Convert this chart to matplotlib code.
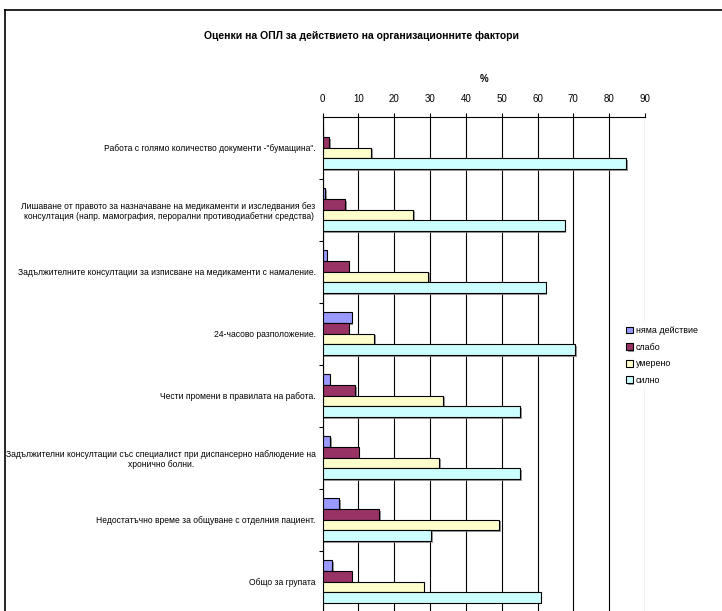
import matplotlib
matplotlib.use('Agg')
import matplotlib.pyplot as plt
import matplotlib.patheffects as pe
from matplotlib.lines import Line2D
import numpy as np

plt.rcParams['font.family'] = ['Liberation Sans', 'DejaVu Sans']

categories = [
    'Работа с голямо количество документи -"бумащина".',
    'Лишаване от правото за назначаване на медикаменти и изследвания без\n'
    'консултация (напр. мамография, перорални противодиабетни средства)',
    'Задължителните консултации за изписване на медикаменти с намаление.',
    '24-часово разположение.',
    'Чести промени в правилата на работа.',
    'Задължителни консултации със специалист при диспансерно наблюдение на\n'
    'хронично болни.',
    'Недостатъчно време за общуване с отделния пациент.',
    'Общо за групата',
]
series_names = ['няма действие', 'слабо', 'умерено', 'силно']
nyama = [0.0, 0.7, 1.1, 8.1, 2.0, 2.2, 4.7, 2.7]
slabo = [1.8, 6.3, 7.3, 7.3, 9.0, 10.1, 15.7, 8.1]
umereno = [13.5, 25.3, 29.5, 14.4, 33.7, 32.6, 49.2, 28.2]
silno = [84.7, 67.6, 62.3, 70.5, 55.2, 55.2, 30.4, 60.9]
x_ticks = list(range(0, 100, 10))

colors = ['#9999FF', '#993366', '#FFFFCC', '#CCFFFF']

fig = plt.figure(figsize=(7.22, 6.11), dpi=100)
ax = fig.add_axes([322.6 / 722, -1.5 / 611, (645 - 322.6) / 722, (612.5 - 116.7) / 611])

y = np.arange(len(categories))
h = 0.172
shadow = [pe.SimplePatchShadow(offset=(1.2, -1.2), shadow_rgbFace='#808080', alpha=0.8), pe.Normal()]
for k, (name, vals) in enumerate(zip(series_names, [nyama, slabo, umereno, silno])):
    bars = ax.barh(y + (k - 1.5) * h, vals, height=h, color=colors[k],
                   edgecolor='black', linewidth=0.8, label=name, zorder=3)
    for b in bars:
        if b.get_width() > 0:
            b.set_path_effects(shadow)

ax.set_xlim(0, 90)
ax.set_ylim(len(categories) - 0.5, -0.5)
ax.xaxis.tick_top()
ax.xaxis.set_label_position('top')
ax.set_xticks(x_ticks)
ax.set_xticklabels([str(v) for v in x_ticks], fontsize=7)
ax.tick_params(axis='x', length=3, width=0.8, pad=6, color='black')
ax.set_xlabel('%', fontsize=7, fontweight='bold', labelpad=9)
ax.xaxis.grid(True, color='black', linewidth=0.8, zorder=0)
ax.set_axisbelow(True)

ax.set_yticks(y)
ax.set_yticklabels(categories, fontsize=6.15, multialignment='center')
ax.tick_params(axis='y', which='major', length=0, pad=5)
ax.set_yticks(np.arange(len(categories)) + 0.5, minor=True)
ax.tick_params(axis='y', which='minor', length=3, width=0.8)

ax.spines['right'].set_visible(False)
ax.spines['bottom'].set_visible(False)
ax.spines['top'].set_linewidth(0.8)
ax.spines['left'].set_linewidth(0.8)

leg = ax.legend(loc='upper left', bbox_to_anchor=(619 / 722, 1 - 319 / 611),
                bbox_transform=fig.transFigure, frameon=True, fancybox=False,
                edgecolor='white', facecolor='white', framealpha=1,
                fontsize=6.4, handlelength=0.75, handleheight=0.8,
                handletextpad=0.35, labelspacing=0.85, borderpad=0.3)
leg.set_zorder(5)
for p in leg.get_patches():
    p.set_linewidth(0.8)

fig.text(362 / 722, 1 - 36 / 611, 'Оценки на ОПЛ за действието на организационните фактори',
         ha='center', va='center', fontsize=7.5, fontweight='bold')

# chart frame
fig.add_artist(Line2D([4.5 / 722, 4.5 / 722], [0, 1 - 10 / 611], color='black', linewidth=1.2))
fig.add_artist(Line2D([4.5 / 722, 1], [1 - 10 / 611, 1 - 10 / 611], color='black', linewidth=1.2))

fig.savefig('out.png', dpi=100)
